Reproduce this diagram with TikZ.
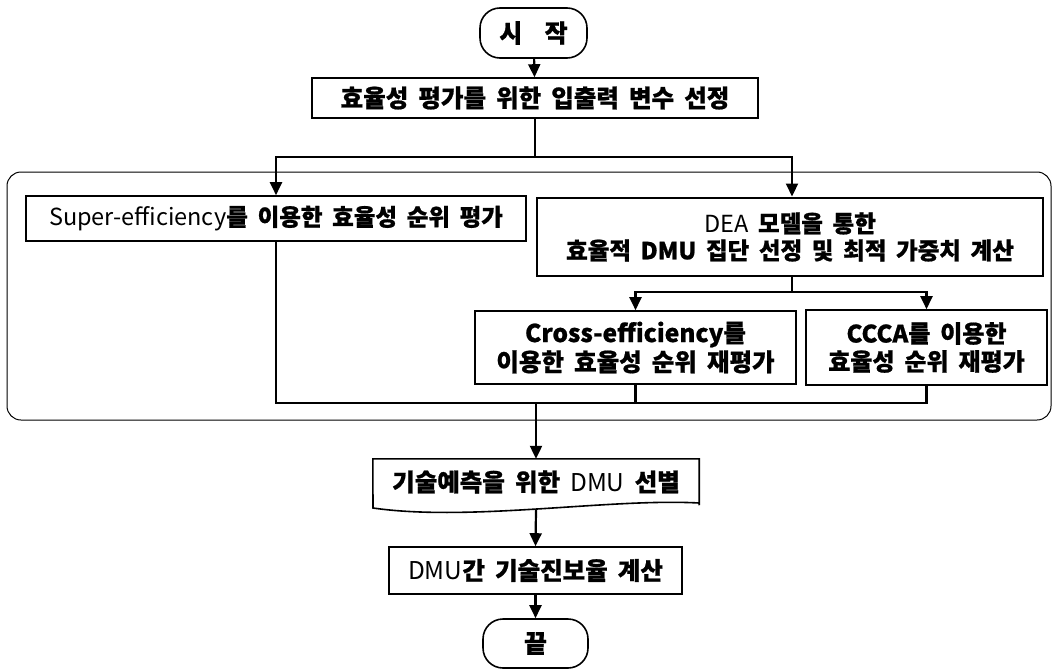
\documentclass[tikz,border=0pt]{standalone}
\usepackage{fontspec}
\setmainfont{Noto Sans CJK KR}[WordSpace=1.8, BoldFeatures={FakeBold=0.8}]
\usetikzlibrary{arrows.meta,calc}
\tikzset{
  box/.style={draw, line width=1.6pt, inner sep=0pt, align=center,
    font=\bfseries\fontsize{23.5}{27}\selectfont},
  term/.style={draw, line width=1.6pt, rounded corners=20pt, inner sep=0pt,
    font=\bfseries\fontsize{25}{28}\selectfont},
  conn/.style={line width=2.2pt},
  arr/.style={conn, -{Triangle[width=12pt,length=13pt]}},
  outer/.style={line width=1pt, rounded corners=14pt},
}
\begin{document}
\begin{tikzpicture}[x=1pt,y=-1pt]
\useasboundingbox (0,0) rectangle (1054,669);
% group frame
\draw[outer] (7,172) rectangle (1051,420);
% nodes
\node[term, minimum width=107pt, minimum height=50pt] (start) at (533.5,33) {시 \hspace{12pt}작};
\node[box, minimum width=446pt, minimum height=40pt, font=\bfseries\fontsize{24.5}{28}\selectfont] (sel) at (535,98) {효율성 평가를 위한 입출력 변수 선정};
\node[box, minimum width=500pt, minimum height=45pt] (super) at (276,218.5) {{\mdseries Super-efficiency}를 이용한 효율성 순위 평가};
\node[box, minimum width=506pt, minimum height=78pt] (dea) at (790,237) {{\mdseries DEA} 모델을 통한\\효율적 DMU 집단 선정 및 최적 가중치 계산};
\node[box, minimum width=321pt, minimum height=73pt, font=\bfseries\fontsize{24.5}{29}\selectfont] (cross) at (635.5,347.5) {Cross-efficiency를\\이용한 효율성 순위 재평가};
\node[box, minimum width=241pt, minimum height=75pt, font=\bfseries\fontsize{24}{28}\selectfont] (ccca) at (926.5,347.5) {CCCA를 이용한\\효율성 순위 재평가};
\node[inner sep=0pt, minimum width=326pt, minimum height=46pt, font=\bfseries\fontsize{24.5}{28}\selectfont] (doc) at (536,482) {기술예측을 위한 {\mdseries DMU} 선별};
\draw[line width=1.6pt] (doc.south east) -- (doc.north east) -- (doc.north west) -- (373,508)
  .. controls (470,522) and (610,498) .. (699,503) -- cycle;
\node[box, minimum width=293pt, minimum height=47pt, font=\bfseries\fontsize{24.5}{28}\selectfont] (dmu) at (535.5,570.5) {{\mdseries DMU}간 기술진보율 계산};
\node[term, minimum width=105pt, minimum height=49pt] (end) at (535.5,643.5) {끝};
% coordinates
\coordinate (split1) at (535,157);
\coordinate (split2) at (792,292);
\coordinate (merge) at (536,403);
\coordinate (docb) at (536,510);
% connectors
\draw[arr] (start) -- (sel);
\draw[conn] (sel.south) -- (split1);
\draw[arr] (split1) -| (super.north);
\draw[arr] (split1) -| (792,196.5);
\draw[conn] (792,276) -- (split2);
\draw[arr] (split2) -| (cross.north);
\draw[arr] (split2) -| (ccca.north);
\draw[conn] (super.south) |- (merge);
\draw[conn] (ccca.south) |- (merge);
\draw[conn] (cross.south) -- (cross.south |- merge);
\draw[arr] (merge) -- (doc.north);
\draw[arr] (docb) -- (dmu.north);
\draw[arr] (dmu) -- (end);
\end{tikzpicture}
\end{document}
